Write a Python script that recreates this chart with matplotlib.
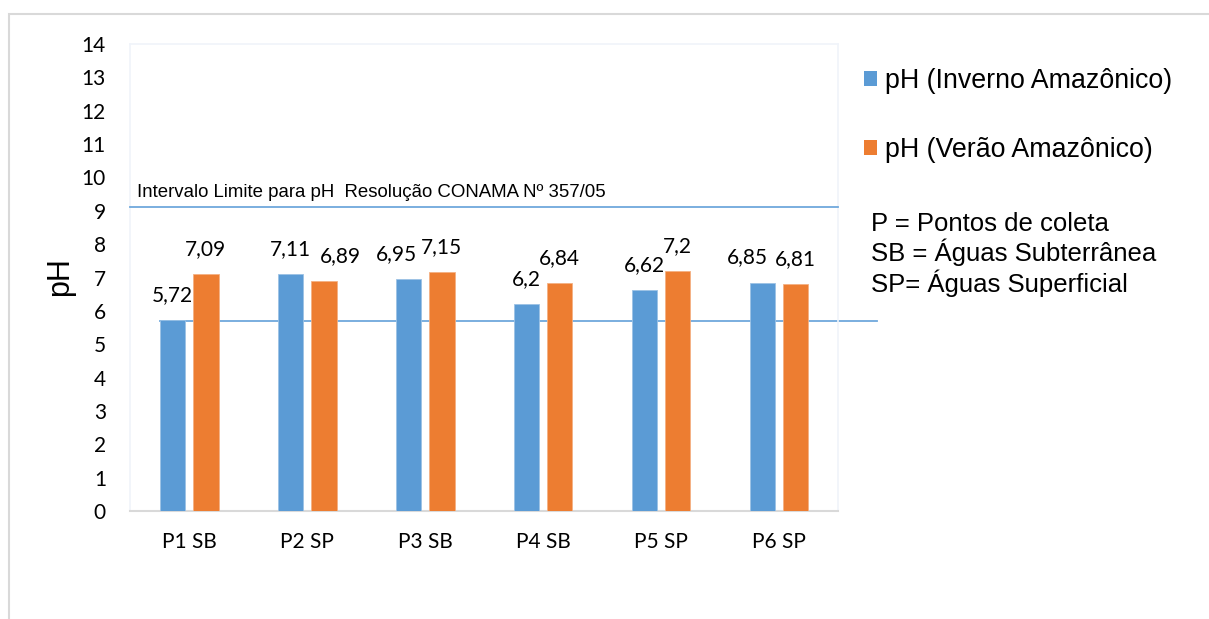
import matplotlib
matplotlib.use("Agg")
import matplotlib.pyplot as plt
import numpy as np
from matplotlib.patches import Rectangle
from matplotlib.transforms import blended_transform_factory

# --- data -------------------------------------------------------------
pontos = ["P1 SB", "P2 SP", "P3 SB", "P4 SB", "P5 SP", "P6 SP"]
ph_inverno = [5.72, 7.11, 6.95, 6.2, 6.62, 6.85]
ph_verao = [7.09, 6.89, 7.15, 6.84, 7.2, 6.81]
serie_nomes = ["pH (Inverno Amazônico)", "pH (Verão Amazônico)"]
limite_superior = 9.12
limite_inferior = 5.7
y_ticks = list(range(0, 15))

# horizontal nudges (pixels) for value labels that would otherwise collide
nudge_inverno = [0, 0, -12, 0, 0, -15]
nudge_verao = [0, 17, 0, 0, 0, 0]

# --- style ------------------------------------------------------------
W, H = 1209, 619
BLUE = "#5B9BD5"
ORANGE = "#ED7D31"
LINE = "#6FA8DC"
NUM_FONT = ["Lato", "DejaVu Sans"]
ARIAL = ["Liberation Sans", "DejaVu Sans"]
NARROW = ["Liberation Sans Narrow", "Liberation Sans", "DejaVu Sans"]
PX = 72 / 100  # points per pixel at 100 dpi

fig = plt.figure(figsize=(W / 100, H / 100), dpi=100)
fig.patch.set_facecolor("white")

# outer frame of the chart object
fig.patches.append(Rectangle((9 / W, -0.2), 1.2, 1.2 - 14 / H, transform=fig.transFigure,
                             fill=False, edgecolor="#D9D9D9", linewidth=1.5, zorder=0))

ax = fig.add_axes([130 / W, 1 - 511 / H, 708 / W, 467 / H])
x = np.arange(len(pontos))
width = 0.22
off = 0.14

b1 = ax.bar(x - off, ph_inverno, width, color=BLUE, edgecolor="#9CC2E5",
            linewidth=0.6, zorder=3, label=serie_nomes[0])
b2 = ax.bar(x + off, ph_verao, width, color=ORANGE, edgecolor="#F4B183",
            linewidth=0.6, zorder=3, label=serie_nomes[1])

ax.set_xlim(-0.5, len(pontos) - 0.5)
ax.set_ylim(0, 14)
ax.set_yticks(y_ticks)
ax.set_yticklabels([str(v) for v in y_ticks], fontfamily=NUM_FONT, fontsize=15)
ax.set_xticks(x)
ax.set_xticklabels(pontos, fontfamily=NUM_FONT, fontsize=15)
ax.tick_params(axis="y", length=0, pad=24 * PX)
ax.tick_params(axis="x", length=0, pad=21 * PX)

for side in ["top", "right", "left"]:
    ax.spines[side].set_color("#F0F4FA")
    ax.spines[side].set_linewidth(1.2)
ax.spines["bottom"].set_color("#D9D9D9")
ax.spines["bottom"].set_linewidth(1.5)

# value labels
for bars, vals, nudges in ((b1, ph_inverno, nudge_inverno), (b2, ph_verao, nudge_verao)):
    for rect, v, dx in zip(bars, vals, nudges):
        txt = f"{v:g}".replace(".", ",")
        ax.annotate(txt, (rect.get_x() + rect.get_width() / 2, v),
                    xytext=(dx * PX, 25 * PX), textcoords="offset points",
                    ha="center", va="center", fontfamily=NUM_FONT, fontsize=15,
                    color="#000000", zorder=5)

# CONAMA limit lines
tr = blended_transform_factory(ax.transAxes, ax.transData)
ax.plot([0, 1], [limite_superior, limite_superior], transform=tr, color=LINE,
        linewidth=1.3, zorder=4, clip_on=False)
ax.plot([(160 - 130) / 708, (877 - 130) / 708], [limite_inferior, limite_inferior],
        transform=tr, color=LINE, linewidth=1.3, zorder=2, clip_on=False)
fig.text(137 / W, 1 - 197 / H, "Intervalo Limite para pH  Resolução CONAMA Nº 357/05",
         fontfamily=NARROW, fontsize=13.4, va="baseline", ha="left")

# axis title
fig.text(60 / W, 1 - 277 / H, "pH", rotation=90, fontfamily=ARIAL, fontsize=22,
         ha="center", va="center")

# legend
handles = [Rectangle((0, 0), 1, 1, facecolor=BLUE, edgecolor="none"),
           Rectangle((0, 0), 1, 1, facecolor=ORANGE, edgecolor="none")]
leg = fig.legend(handles, serie_nomes, loc="upper left",
                 bbox_to_anchor=(864 / W, 1 - 68 / H), frameon=False,
                 prop={"family": ARIAL, "size": 19.3},
                 handlelength=0.5, handleheight=0.5, handletextpad=0.3,
                 labelspacing=1.6, borderaxespad=0, borderpad=0)

# notes on the sampling points
notas = ["P = Pontos de coleta", "SB = Águas Subterrânea", "SP= Águas Superficial"]
for i, nota in enumerate(notas):
    fig.text(871 / W, 1 - (231 + 30.5 * i) / H, nota, fontfamily=ARIAL, fontsize=18.5,
             va="baseline", ha="left")

fig.savefig("out.png", dpi=100)
